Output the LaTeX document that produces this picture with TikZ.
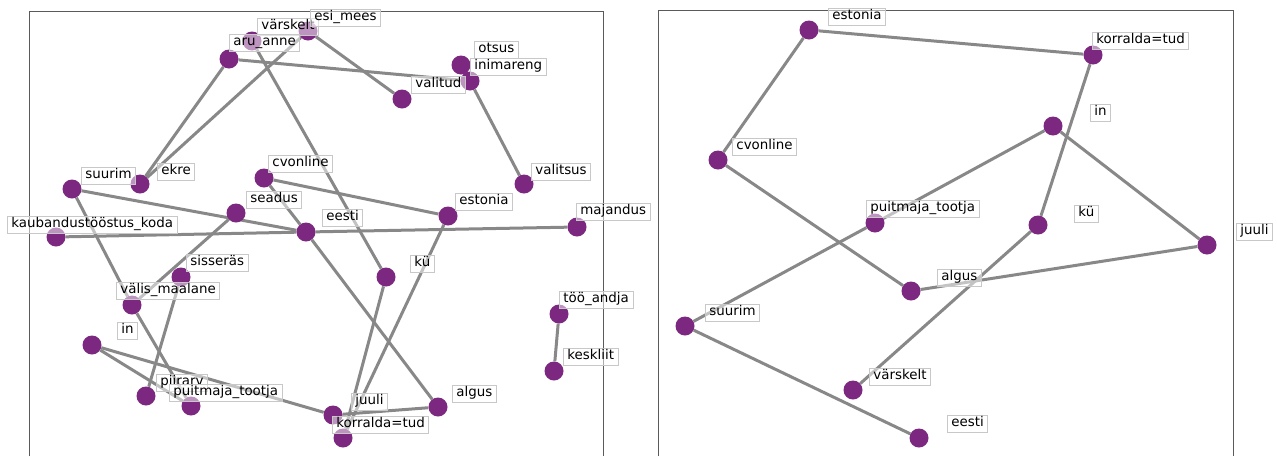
\documentclass[tikz,border=0pt]{standalone}
\usepackage{fontspec}
\setmainfont{DejaVu Sans}
\usetikzlibrary{backgrounds}
\definecolor{nodec}{RGB}{124,40,128}
\definecolor{edgec}{RGB}{136,136,136}
\definecolor{lblc}{RGB}{200,200,200}
\definecolor{framec}{RGB}{90,90,90}
\begin{document}
\begin{tikzpicture}[x=1pt,y=-1pt,
  vtx/.style={circle,fill=nodec,inner sep=0pt,minimum size=19pt},
  lbl/.style={draw=lblc,line width=0.8pt,fill=white,fill opacity=0.5,draw opacity=1,text opacity=1,anchor=west,
    inner xsep=4pt,inner ysep=3.5pt,text height=0.75em,text depth=0.22em,
    font=\fontsize{13.4}{16}\selectfont},
  edge/.style={draw=edgec,line width=3pt},
  panel/.style={draw=framec,line width=1pt}]
\useasboundingbox (0,0) rectangle (1277,456);
\begin{scope}[on background layer]
\fill[white] (0,0) rectangle (1277,456);
\end{scope}
% frames
\draw[panel] (29,456) -- (29,11) -- (603,11) -- (603,456);
\draw[panel] (658,456) -- (658,10) -- (1233,10) -- (1233,456);
% ---------- left panel vertices ----------
\node[vtx] (Lvar) at (252,41) {};
\node[vtx] (Lesi) at (308,31) {};
\node[vtx] (Lar) at (229,59) {};
\node[vtx] (Lots) at (461,65) {};
\node[vtx] (Lini) at (470,81) {};
\node[vtx] (Lval) at (402,99) {};
\node[vtx] (Lvals) at (524,184) {};
\node[vtx] (Lsuu) at (72,189) {};
\node[vtx] (Lekre) at (140,184) {};
\node[vtx] (Lcv) at (264,178) {};
\node[vtx] (Lsea) at (236,213) {};
\node[vtx] (Leesti) at (306,232) {};
\node[vtx] (Lest) at (448,216) {};
\node[vtx] (Lmaj) at (577,227) {};
\node[vtx] (Lkau) at (56,237) {};
\node[vtx] (Lsis) at (181,277) {};
\node[vtx] (Lku) at (386,277) {};
\node[vtx] (Lvm) at (132,305) {};
\node[vtx] (Ltoo) at (559,314) {};
\node[vtx] (Lin) at (92,345) {};
\node[vtx] (Lkes) at (554,371) {};
\node[vtx] (Lpiir) at (146,396) {};
\node[vtx] (Lpuit) at (191,406) {};
\node[vtx] (Ljuu) at (333,415) {};
\node[vtx] (Lalg) at (438,407) {};
\node[vtx] (Lkor) at (343,438) {};
% ---------- right panel vertices ----------
\node[vtx] (Rest) at (809,30) {};
\node[vtx] (Rkor) at (1093,55) {};
\node[vtx] (Rin) at (1053,126) {};
\node[vtx] (Rcv) at (718,160) {};
\node[vtx] (Rpuit) at (875,223) {};
\node[vtx] (Rku) at (1038,225) {};
\node[vtx] (Rjuu) at (1207,245) {};
\node[vtx] (Ralg) at (911,291) {};
\node[vtx] (Rsuu) at (685,326) {};
\node[vtx] (Rvar) at (853,390) {};
\node[vtx] (Reesti) at (919,438) {};
% ---------- edges ----------
\begin{scope}[on background layer]
\draw[edge] (Lar) -- (Lini);
\draw[edge] (Lar) -- (Lekre);
\draw[edge] (Lesi) -- (Lekre);
\draw[edge] (Lesi) -- (Lval);
\draw[edge] (Lvar) -- (Lku);
\draw[edge] (Lini) -- (Lvals);
\draw[edge] (Lsuu) -- (Leesti);
\draw[edge] (Lsuu) -- (Lvm);
\draw[edge] (Lvm) -- (Lpuit);
\draw[edge] (Lcv) -- (Leesti);
\draw[edge] (Leesti) -- (Lalg);
\draw[edge] (Lcv) -- (Lest);
\draw[edge] (Lsea) -- (Lvm);
\draw[edge] (Lkau) -- (Leesti);
\draw[edge] (Leesti) -- (Lmaj);
\draw[edge] (Lest) -- (Lkor);
\draw[edge] (Lku) -- (Lkor);
\draw[edge] (Lin) -- (Ljuu);
\draw[edge] (Lin) -- (Lpuit);
\draw[edge] (Lsis) -- (Lpiir);
\draw[edge] (Ljuu) -- (Lalg);
\draw[edge] (Ltoo) -- (Lkes);
\draw[edge] (Rest) -- (Rkor);
\draw[edge] (Rest) -- (Rcv);
\draw[edge] (Rkor) -- (Rku);
\draw[edge] (Rin) -- (Rpuit);
\draw[edge] (Rpuit) -- (Rsuu);
\draw[edge] (Rin) -- (Rjuu);
\draw[edge] (Rcv) -- (Ralg);
\draw[edge] (Ralg) -- (Rjuu);
\draw[edge] (Rku) -- (Rvar);
\draw[edge] (Rsuu) -- (Reesti);
\end{scope}
% ---------- left labels ----------
\node[lbl] (Lvar-l) at (257,27) {värskelt};
\node[lbl] (Lesi-l) at (310,18) {esi\_mees};
\node[lbl] (Lar-l) at (229,43) {aru\_anne};
\node[lbl] (Lots-l) at (474,50) {otsus};
\node[lbl] (Lini-l) at (470,67) {inimareng};
\node[lbl] (Lval-l) at (411,85) {valitud};
\node[lbl] (Lvals-l) at (531,172) {valitsus};
\node[lbl] (Lsuu-l) at (81,176) {suurim};
\node[lbl] (Lekre-l) at (157,172) {ekre};
\node[lbl] (Lcv-l) at (268,164) {cvonline};
\node[lbl] (Lsea-l) at (246,200) {seadus};
\node[lbl] (Leesti-l) at (322,218) {eesti};
\node[lbl] (Lest-l) at (455,202) {estonia};
\node[lbl] (Lmaj-l) at (576,212) {majandus};
\node[lbl] (Lkau-l) at (7,225) {kaubandustööstus\_koda};
\node[lbl] (Lsis-l) at (186,263) {sisseräs};
\node[lbl] (Lku-l) at (410,264) {kü};
\node[lbl] (Lvm-l) at (116,291) {välis\_maalane};
\node[lbl] (Ltoo-l) at (559,300) {töö\_andja};
\node[lbl] (Lin-l) at (117,331) {in};
\node[lbl] (Lkes-l) at (563,357) {keskliit};
\node[lbl] (Lpiir-l) at (156,383) {piirarv};
\node[lbl] (Lpuit-l) at (169,393) {puitmaja\_tootja};
\node[lbl] (Ljuu-l) at (351,402) {juuli};
\node[lbl] (Lalg-l) at (452,394) {algus};
\node[lbl] (Lkor-l) at (332,425) {korralda=tud};
% ---------- right labels ----------
\node[lbl] (Rest-l) at (828,17) {estonia};
\node[lbl] (Rkor-l) at (1092,41) {korralda=tud};
\node[lbl] (Rin-l) at (1090,113) {in};
\node[lbl] (Rcv-l) at (732,147) {cvonline};
\node[lbl] (Rpuit-l) at (866,209) {puitmaja\_tootja};
\node[lbl] (Rku-l) at (1074,214) {kü};
\node[lbl] (Rjuu-l) at (1236,232) {juuli};
\node[lbl] (Ralg-l) at (937,278) {algus};
\node[lbl] (Rsuu-l) at (705,313) {suurim};
\node[lbl] (Rvar-l) at (869,377) {värskelt};
\node[lbl] (Reesti-l) at (947,424) {eesti};
\end{tikzpicture}
\end{document}
